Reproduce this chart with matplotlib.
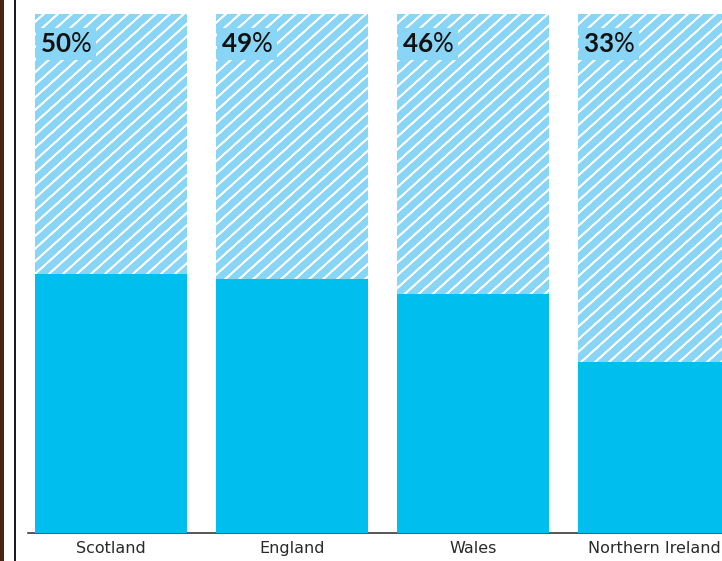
import matplotlib.pyplot as plt
from matplotlib.patches import Rectangle
from matplotlib.collections import LineCollection
from matplotlib.transforms import IdentityTransform

nations = ['Scotland', 'England', 'Wales', 'Northern Ireland']
shares = [50, 49, 46, 33]

solid = '#00bfee'
pale = '#88d5f6'

plt.rcParams['font.family'] = ['Lato', 'DejaVu Sans']
plt.rcParams['mathtext.fontset'] = 'custom'
plt.rcParams['mathtext.rm'] = 'Lato'
plt.rcParams['mathtext.bf'] = 'Lato:bold'

fig = plt.figure(figsize=(722 / 72, 561 / 72), dpi=72)
ax = fig.add_axes([28 / 722, 28 / 561, 694 / 722, 519 / 561])

x = list(range(len(nations)))
width = 152 / 181

# full-height pale backdrop, solid share on top of it
backs = ax.bar(x, [100] * len(x), width, color=pale, linewidth=0, zorder=1)
ax.bar(x, shares, width, color=solid, linewidth=0, zorder=3)

# white diagonal stripes on the backdrop, spaced in screen pixels
for patch in backs:
    segs = [[(k, 0), (k + 800, 720)] for k in range(-900, 760, 14)]
    lc = LineCollection(segs, colors='white', linewidths=1.6,
                        transform=IdentityTransform(), zorder=2)
    lc.set_clip_path(patch)
    ax.add_collection(lc, autolim=False)

for xi, val in zip(x, shares):
    ax.annotate(r'$\mathbf{%d}$%%' % val, xy=(xi - width / 2, 100), xytext=(5, -30),
                textcoords='offset points', ha='left', va='center',
                fontsize=26, color='#111111', zorder=6,
                bbox=dict(boxstyle='square,pad=0.15', fc=pale, ec='none'))

ax.set_xlim(-0.4586, 3.376)
ax.set_ylim(0, 100)
ax.set_xticks(x)
ax.set_xticklabels(nations, fontsize=16, color='#2a2a2a', family='DejaVu Sans')
ax.tick_params(axis='x', length=0, pad=8)
ax.set_yticks([])
for side in ['top', 'right', 'left']:
    ax.spines[side].set_visible(False)
ax.spines['bottom'].set_color('#222222')
ax.spines['bottom'].set_linewidth(1.5)

# frame rule down the left side
fig.add_artist(plt.Line2D([14.5 / 722, 14.5 / 722], [0, 1], color='#1a1a1a', lw=2))
fig.add_artist(Rectangle((0, 0), 4 / 722, 1, transform=fig.transFigure,
                         color='#4a2412', lw=0))

fig.savefig('out.png', dpi=72)
